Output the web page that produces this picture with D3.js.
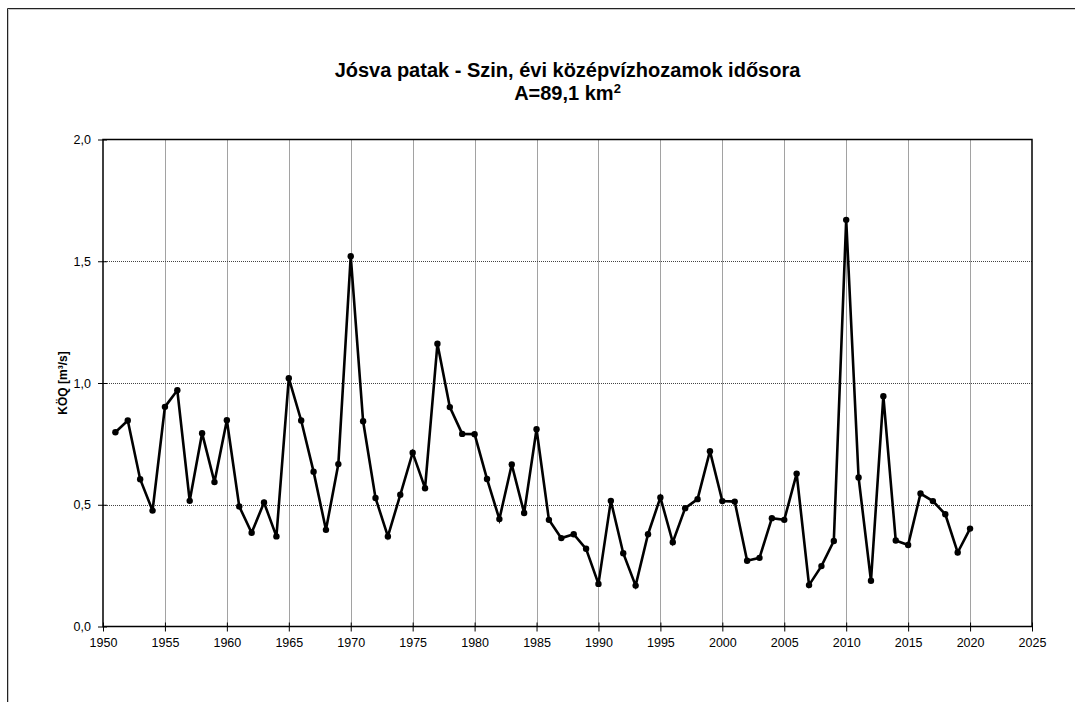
<!DOCTYPE html>
<html><head><meta charset="utf-8">
<script src="https://cdn.jsdelivr.net/npm/d3@7"></script>
<style>body{margin:0;background:#fff;}svg{display:block;font-family:"Liberation Sans",Arial,sans-serif;}</style>
</head><body><svg id="c" width="1075" height="702"></svg>
<script>
const years = d3.range(1951, 2021);
const values = [
0.798,0.846,0.605,0.476,0.902,0.970,0.516,0.794,0.593,0.847,
0.493,0.385,0.509,0.370,1.020,0.846,0.636,0.397,0.667,1.521,
0.843,0.528,0.370,0.541,0.714,0.568,1.161,0.901,0.791,0.790,
0.606,0.441,0.665,0.466,0.810,0.438,0.363,0.379,0.319,0.175,
0.516,0.301,0.168,0.379,0.530,0.346,0.486,0.523,0.720,0.515,
0.513,0.270,0.282,0.445,0.438,0.628,0.170,0.248,0.351,1.670,
0.612,0.188,0.946,0.353,0.335,0.546,0.515,0.461,0.304,0.402];
const xTicks = d3.range(1950, 2026, 5);
const yTicks = [0, 0.5, 1.0, 1.5, 2.0];
const titleLines = ["Jósva patak - Szin, évi középvízhozamok idősora", "A=89,1 km"];
const yLabel = "KÖQ [m³/s]";

const svg = d3.select("#c");
// outer frame
svg.append("path").attr("d","M7.5,702 V8.5 H1075").attr("fill","none").attr("stroke","#c8c8c8").attr("stroke-width",1).attr("transform","translate(1,1)");
svg.append("path").attr("d","M7.5,702 V8.5 H1075").attr("fill","none").attr("stroke","#222").attr("stroke-width",1);

const L=103, R=1032, T=139.5, B=626.5;
const x = d3.scaleLinear().domain([1950,2025]).range([L,R]);
const y = d3.scaleLinear().domain([0,2]).range([B,T]);

// grid
const g = svg.append("g");
g.selectAll(".vg").data(xTicks.slice(1,-1)).join("line")
 .attr("x1",d=>Math.round(x(d))+0.5).attr("x2",d=>Math.round(x(d))+0.5).attr("y1",T).attr("y2",B)
 .attr("stroke","#444").attr("stroke-width",1).attr("stroke-dasharray","1,1");
g.selectAll(".hg").data(yTicks.slice(1,-1)).join("line")
 .attr("y1",d=>Math.round(y(d))+0.5).attr("y2",d=>Math.round(y(d))+0.5).attr("x1",L).attr("x2",R)
 .attr("stroke","#444").attr("stroke-width",1).attr("stroke-dasharray","1,1");

// plot frame
svg.append("rect").attr("x",L).attr("y",T).attr("width",R-L).attr("height",B-T)
 .attr("fill","none").attr("stroke","#000").attr("stroke-width",1.5);

// axes
const xa = svg.append("g").attr("transform",`translate(0,${B})`)
 .call(d3.axisBottom(x).tickValues(xTicks).tickFormat(d3.format("d")).tickSize(5).tickSizeOuter(0));
xa.select(".domain").remove();
xa.selectAll("text").attr("font-size",12.5).attr("fill","#000").attr("dy","1em");
xa.selectAll("line").attr("stroke","#000").attr("y1",-4);

const fmt = d=>d3.format(".1f")(d).replace(".",",");
const ya = svg.append("g").attr("transform",`translate(${L},0)`)
 .call(d3.axisLeft(y).tickValues(yTicks).tickFormat(fmt).tickSize(5).tickSizeOuter(0));
ya.select(".domain").remove();
ya.selectAll("text").attr("font-size",12.5).attr("fill","#000").attr("x",-12);
ya.selectAll("line").attr("stroke","#000").attr("x1",4);

// line
const pts = years.map((yr,i)=>[yr,values[i]]);
svg.append("path").datum(pts)
 .attr("d",d3.line().x(d=>x(d[0])).y(d=>y(d[1])))
 .attr("fill","none").attr("stroke","#000").attr("stroke-width",2.6).attr("stroke-linejoin","miter");
svg.selectAll(".pt").data(pts).join("circle")
 .attr("cx",d=>x(d[0])).attr("cy",d=>y(d[1])).attr("r",3.2).attr("fill","#000");

// titles
const cx = (L+R)/2;
svg.append("text").attr("x",cx).attr("y",77).attr("text-anchor","middle")
 .attr("font-size",20).attr("font-weight","bold").text(titleLines[0]);
const t2 = svg.append("text").attr("x",cx).attr("y",100).attr("text-anchor","middle")
 .attr("font-size",20).attr("font-weight","bold");
t2.append("tspan").text(titleLines[1]);
t2.append("tspan").attr("font-size",13).attr("dy",-7).text("2");

svg.append("text").attr("transform",`translate(67,${(T+B)/2}) rotate(-90)`)
 .attr("text-anchor","middle").attr("font-size",12).attr("font-weight","bold").text(yLabel);
</script></body></html>
